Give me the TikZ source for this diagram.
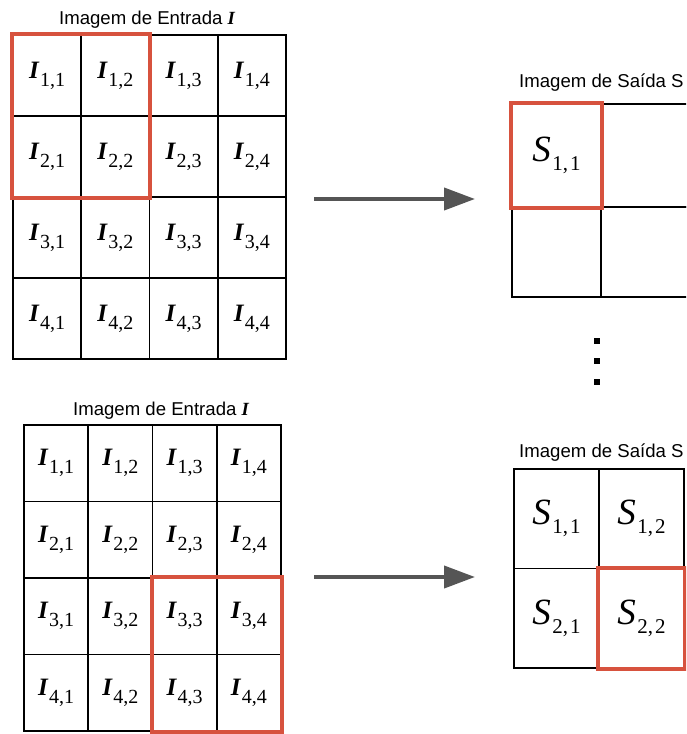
\documentclass[tikz,border=0pt]{standalone}
\usepackage{fontspec}
\setmainfont{Liberation Serif}
\newfontfamily\titlefont{Liberation Sans}
\usetikzlibrary{arrows.meta,positioning}

\definecolor{selred}{RGB}{215,82,62}
\definecolor{arrowgray}{RGB}{85,85,85}

% cell labels: I_{r,c} and S_{r,c}
\newcommand{\inlbl}[2]{{\fontsize{25}{25}\selectfont\bfseries\itshape I}\kern1.5pt\raisebox{-8pt}{\fontsize{20}{20}\selectfont #1,#2}}
\newcommand{\outlbl}[2]{{\fontsize{37}{37}\selectfont\itshape S}\kern1.5pt\raisebox{-9pt}{\fontsize{21}{21}\selectfont #1,\kern2pt#2}}

\begin{document}
\begin{tikzpicture}[
    x=1pt, y=-1pt,
    cellA/.style={draw, line width=1.6pt, minimum width=68.25pt, minimum height=81pt, inner sep=0pt},
    cellB/.style={draw, line width=1.6pt, minimum width=64.25pt, minimum height=76.5pt, inner sep=0pt},
    outcell/.style={draw, line width=1.6pt, inner sep=0pt},
    selbox/.style={draw=selred, line width=4pt},
    title/.style={font=\titlefont\fontsize{18.6}{18.6}\selectfont, inner sep=0pt},
    flow/.style={draw=arrowgray, line width=4pt, -{Triangle[length=31pt,width=22pt]}},
    dotsq/.style={fill=black, minimum size=6pt, inner sep=0pt}
]
\useasboundingbox (0,0) rectangle (686,734);
\clip (0,0) rectangle (686,734);

% ---- Step 1: top-left window ----
\foreach \r in {1,...,4}
  \foreach \c in {1,...,4}
    \node[cellA] (inA-\r-\c) at ({13+(\c-0.5)*68.25},{35+(\r-0.5)*81}) {\inlbl{\r}{\c}};
\node[title, anchor=base] (ttlA) at (147,24) {Imagem de Entrada {\rmfamily\bfseries\itshape I}};

\node[outcell, minimum width=89pt, minimum height=103pt] (outA-1-1) at (556.5,155.5) {\outlbl{1}{1}};
\node[outcell, minimum width=89pt, minimum height=103pt] (outA-1-2) at (645.5,155.5) {};
\node[outcell, minimum width=89pt, minimum height=90pt] (outA-2-1) at (556.5,252) {};
\node[outcell, minimum width=89pt, minimum height=90pt] (outA-2-2) at (645.5,252) {};
\node[title, anchor=base west] (ttlSA) at (519,87) {Imagem de Saída S};

\draw[selbox] (inA-1-1.north west) rectangle (inA-2-2.south east);
\draw[selbox] (outA-1-1.north west) rectangle (outA-1-1.south east);

\coordinate (arrA-tail) at (314,199);
\coordinate (arrA-head) at (475,199);
\draw[flow] (arrA-tail) -- (arrA-head);

% ---- vertical dots ----
\foreach \k/\yy in {1/341,2/361,3/382}
  \node[dotsq] (dot\k) at (597,\yy) {};

% ---- Step 4: bottom-right window ----
\foreach \r in {1,...,4}
  \foreach \c in {1,...,4}
    \node[cellB] (inB-\r-\c) at ({24+(\c-0.5)*64.25},{425+(\r-0.5)*76.5}) {\inlbl{\r}{\c}};
\node[title, anchor=base] (ttlB) at (161,415) {Imagem de Entrada {\rmfamily\bfseries\itshape I}};

\foreach \r in {1,2}
  \foreach \c in {1,2}
    \node[outcell, minimum width=85pt, minimum height=99.5pt] (outB-\r-\c) at ({514+(\c-0.5)*85},{469+(\r-0.5)*99.5}) {\outlbl{\r}{\c}};
\node[title, anchor=base west] (ttlSB) at (519,457) {Imagem de Saída S};

\draw[selbox] (inB-3-3.north west) rectangle (inB-4-4.south east);
\draw[selbox] (outB-2-2.north west) rectangle (outB-2-2.south east);

\coordinate (arrB-tail) at (314,577);
\coordinate (arrB-head) at (475,577);
\draw[flow] (arrB-tail) -- (arrB-head);

\end{tikzpicture}
\end{document}
